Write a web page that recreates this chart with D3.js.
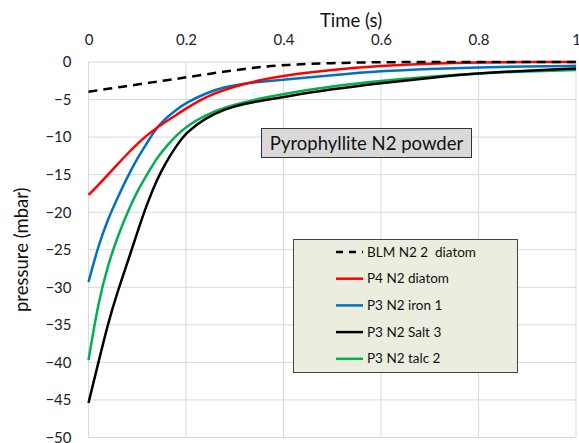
<!DOCTYPE html>
<html>
<head>
<meta charset="utf-8">
<script src="https://cdn.jsdelivr.net/npm/d3@7"></script>
<style>
  body { margin: 0; background: #fff; }
  svg { font-family: Lato, "Open Sans", sans-serif; }
  text { white-space: pre; }
</style>
</head>
<body>
<div id="chart"></div>
<script>
// time points (s)
const times = [0, 0.02, 0.04, 0.06, 0.08, 0.1, 0.12, 0.14, 0.16, 0.18, 0.2, 0.24, 0.28, 0.32, 0.36, 0.4, 0.5, 0.6, 0.7, 0.8, 0.9, 1.0];

// pressure (mbar) per series
const blmDiatom = [-3.95, -3.76, -3.57, -3.38, -3.19, -3.0, -2.81, -2.62, -2.43, -2.24, -2.05, -1.65, -1.27, -0.92, -0.62, -0.4, -0.12, -0.02, 0, 0, 0, 0];
const p4Diatom = [-17.7, -16.4, -15.0, -13.6, -12.2, -10.9, -9.75, -8.75, -7.9, -7.05, -6.2, -4.65, -3.65, -2.9, -2.3, -1.8, -1.0, -0.5, -0.2, -0.05, 0, 0];
const p3Iron = [-29.3, -24.5, -20.9, -18.0, -15.3, -12.8, -10.8, -8.7, -7.4, -6.35, -5.45, -4.15, -3.3, -2.85, -2.6, -2.35, -1.75, -1.2, -0.9, -0.7, -0.6, -0.5];
const p3Salt = [-45.4, -40.1, -34.8, -30.5, -26.7, -22.7, -18.9, -15.7, -13.2, -11.2, -9.4, -7.45, -6.25, -5.55, -5.1, -4.65, -3.6, -2.8, -2.1, -1.5, -1.15, -0.85];
const p3Talc = [-39.7, -32.0, -27.0, -23.2, -20.0, -17.2, -15.0, -12.8, -11.2, -9.8, -8.6, -7.05, -6.05, -5.35, -4.75, -4.25, -3.2, -2.5, -1.95, -1.5, -1.25, -1.07];

const seriesNames = ['BLM N2 2  diatom', 'P4 N2 diatom', 'P3 N2 iron 1', 'P3 N2 Salt 3', 'P3 N2 talc 2'];
const seriesColors = ['#000000', '#ff0000', '#0070c0', '#000000', '#00b050'];
const seriesDash = ['9,6', null, null, null, null];
const seriesValues = [blmDiatom, p4Diatom, p3Iron, p3Salt, p3Talc];

const xTicks = [0, 0.2, 0.4, 0.6, 0.8, 1];
const yTicks = [0, -5, -10, -15, -20, -25, -30, -35, -40, -45, -50];

const width = 579, height = 443;
const margin = {top: 62, right: 3, bottom: 5.5, left: 88.5};

const svg = d3.select('#chart')
    .append('svg')
    .attr('width', width)
    .attr('height', height);

const x = d3.scaleLinear().domain([0, 1]).range([margin.left, width - margin.right]);
const y = d3.scaleLinear().domain([0, -50]).range([margin.top, height - margin.bottom]);

// gridlines
svg.append('g')
    .selectAll('line')
    .data(yTicks)
    .join('line')
    .attr('x1', x(0)).attr('x2', x(1))
    .attr('y1', d => y(d)).attr('y2', d => y(d))
    .attr('stroke', '#d9d9d9').attr('stroke-width', 1);

svg.append('g')
    .selectAll('line')
    .data(xTicks)
    .join('line')
    .attr('x1', d => x(d)).attr('x2', d => x(d))
    .attr('y1', y(0)).attr('y2', y(-50))
    .attr('stroke', '#d9d9d9').attr('stroke-width', 1);

// x axis on top (labels only)
const xAxis = svg.append('g')
    .attr('transform', `translate(0,${y(0) - 14})`)
    .call(d3.axisTop(x).tickValues(xTicks).tickSize(0).tickFormat(d3.format('')));
xAxis.select('.domain').remove();
xAxis.selectAll('text').attr('font-size', 15).attr('fill', '#222').attr('font-family', 'Lato, sans-serif');

// y axis labels
const yAxis = svg.append('g')
    .attr('transform', `translate(${x(0) - 14},0)`)
    .call(d3.axisLeft(y).tickValues(yTicks).tickSize(0).tickFormat(d3.format('')));
yAxis.select('.domain').remove();
yAxis.selectAll('text').attr('font-size', 15).attr('fill', '#222').attr('font-family', 'Lato, sans-serif');

// axis titles
svg.append('text')
    .attr('x', 351).attr('y', 27)
    .attr('text-anchor', 'middle')
    .attr('font-size', 18.5).attr('fill', '#111')
    .text('Time (s)');

svg.append('text')
    .attr('transform', `translate(28,${(y(0) + y(-50)) / 2}) rotate(-90)`)
    .attr('text-anchor', 'middle')
    .attr('font-size', 18.5).attr('fill', '#111')
    .text('pressure (mbar)');

// lines - basis smoothing irons out reading noise
const line = d3.line()
    .x((d, i) => x(times[i]))
    .y(d => y(d))
    .curve(d3.curveBasis);

svg.append('g')
    .selectAll('path')
    .data(seriesValues.map((v, i) => ({values: v, i})).reverse())
    .join('path')
    .attr('d', d => line(d.values))
    .attr('fill', 'none')
    .attr('stroke', d => seriesColors[d.i])
    .attr('stroke-width', 2.5)
    .attr('stroke-dasharray', d => seriesDash[d.i]);

// annotation box
const note = svg.append('g');
note.append('rect')
    .attr('x', 261.5).attr('y', 128.5).attr('width', 210).attr('height', 29)
    .attr('fill', '#d9d9d9').attr('stroke', '#333').attr('stroke-width', 1);
note.append('text')
    .attr('x', 366.5).attr('y', 149.5)
    .attr('text-anchor', 'middle')
    .attr('font-size', 18.5).attr('fill', '#111')
    .text('Pyrophyllite N2 powder');

// legend
const legend = svg.append('g');
legend.append('rect')
    .attr('x', 293.5).attr('y', 239.5).attr('width', 224).attr('height', 133)
    .attr('fill', '#ebeede').attr('stroke', '#444').attr('stroke-width', 1);

const items = legend.selectAll('g')
    .data(seriesNames)
    .join('g')
    .attr('transform', (d, i) => `translate(0,${252 + i * 26.7})`);

items.append('line')
    .attr('x1', 336).attr('x2', 363)
    .attr('y1', 0).attr('y2', 0)
    .attr('stroke', (d, i) => seriesColors[i])
    .attr('stroke-width', 2.5)
    .attr('stroke-dasharray', (d, i) => seriesDash[i] ? '7,6' : null);

items.append('text')
    .attr('x', 367).attr('y', 4.5)
    .attr('font-size', 13.5).attr('fill', '#111')
    .text(d => d);
</script>
</body>
</html>
